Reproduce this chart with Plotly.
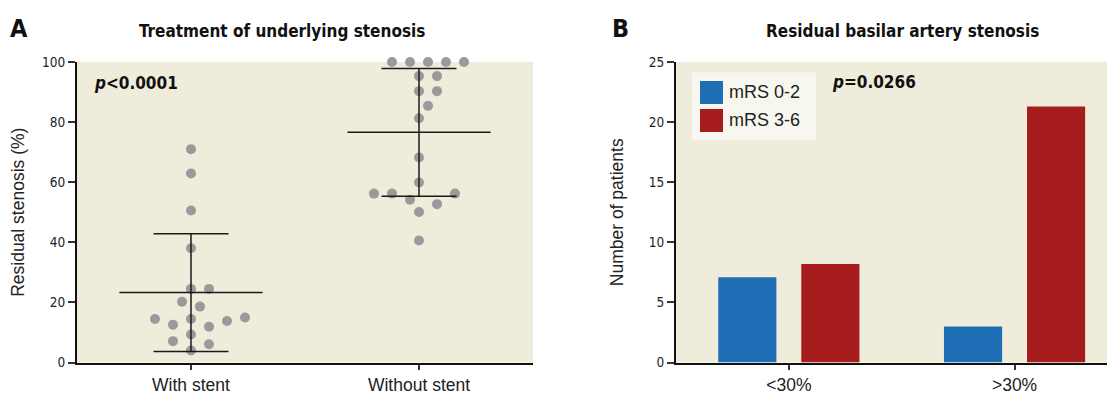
import numpy as np
import plotly.graph_objects as go

# ---------------- data ----------------
groups = ["With stent", "Without stent"]
with_stent = [71.0, 62.9, 50.6, 38.0, 24.5, 24.5, 20.2, 18.6, 15.0, 14.5,
              14.5, 13.8, 12.6, 11.9, 9.3, 7.1, 6.1, 4.0]
without_stent = [100, 100, 100, 100, 100, 95.3, 95.3, 90.3, 90.3, 85.4,
                 81.3, 68.2, 59.9, 56.2, 56.2, 56.2, 54.2, 52.7, 50.1, 40.6]

stenosis_cats = ["<30%", ">30%"]
mrs_02 = [7.1, 3.0]
mrs_36 = [8.2, 21.3]
series_names = ["mRS 0-2", "mRS 3-6"]

# ---------------- styling ----------------
BG = "#f0ecdb"
GREY = "#9a9a9a"
BLUE = "#1f6fb6"
RED = "#a61b1b"
NARROW = "DejaVu Sans Condensed, Roboto, sans-serif"
SANS = "Liberation Sans, Arial, sans-serif"

# page body has an 8px margin: size the figure to the visible window
OFF = 8
W, H = 1115 - OFF, 395 - OFF


def px_x(x):
    return (x - OFF) / W


def px_y(y):
    return (H - (y - OFF)) / H


xdom1 = [px_x(77), px_x(533)]
xdom2 = [px_x(676), 1.0]
ydom = [px_y(362.5), px_y(62)]


def swarm(values, ppu_y, ppu_x, diam=15.0, step=9.0):
    """Greedy beeswarm: horizontal offsets (data units) so markers don't overlap."""
    vals = np.asarray(values, dtype=float)
    order = np.argsort(vals, kind="stable")
    placed = []
    offs = np.zeros(len(vals))
    cands = [0.0]
    for n in range(1, 40):
        cands += [n * step, -n * step]
    for i in order:
        y = vals[i] * ppu_y
        chosen = 0.0
        for c in cands:
            if all((c - px) ** 2 + (y - py) ** 2 >= diam ** 2 for px, py in placed):
                chosen = c
                break
        placed.append((chosen, y))
        offs[i] = chosen / ppu_x
    return offs


ppu_y = (362.5 - 62) / 100.0   # px per % on left panel
ppu_x = (533 - 77) / 2.0       # px per category unit

fig = go.Figure()

datasets = [with_stent, without_stent]
for gi, vals in enumerate(datasets):
    offs = swarm(vals, ppu_y, ppu_x)
    fig.add_trace(go.Scatter(
        x=gi + offs, y=vals, mode="markers",
        marker=dict(color=GREY, size=10, line=dict(width=0)),
        cliponaxis=False, showlegend=False, hoverinfo="y",
        xaxis="x", yaxis="y"))

# mean and SD
for gi, vals in enumerate(datasets):
    m = float(np.mean(vals))
    sd = float(np.std(vals, ddof=1))
    fig.add_trace(go.Scatter(
        x=[gi - 0.314, gi + 0.314], y=[m, m], mode="lines",
        line=dict(color="#1a1a1a", width=1.5), showlegend=False,
        hoverinfo="skip", xaxis="x", yaxis="y", cliponaxis=False))
    fig.add_trace(go.Scatter(
        x=[gi], y=[m], mode="markers", marker=dict(size=0.1, color="rgba(0,0,0,0)"),
        error_y=dict(type="data", array=[sd], visible=True, color="#1a1a1a",
                     thickness=1.5, width=37.5),
        showlegend=False, hoverinfo="skip", xaxis="x", yaxis="y", cliponaxis=False))

# bars
for name, vals, col in zip(series_names, [mrs_02, mrs_36], [BLUE, RED]):
    fig.add_trace(go.Bar(
        x=list(range(len(stenosis_cats))), y=vals, name=name,
        marker=dict(color=col, line=dict(width=0)),
        showlegend=False, xaxis="x2", yaxis="y2"))

axis_common = dict(
    showline=True, linecolor="#111111", linewidth=2, ticks="outside",
    ticklen=7, tickwidth=1.5, tickcolor="#333333", showgrid=False,
    zeroline=False, fixedrange=True, automargin=False)
xaxis_common = dict(axis_common, ticklen=5)

fig.update_layout(
    width=W, height=H, autosize=False,
    margin=dict(l=0, r=0, t=0, b=0, pad=0),
    paper_bgcolor="white", plot_bgcolor=BG,
    barmode="group", bargap=0.264, bargroupgap=0.30,
    xaxis=dict(domain=xdom1, range=[-0.5, 1.5], tickvals=[0, 1], ticktext=groups,
               tickfont=dict(family=SANS, size=17.5, color="#222"), anchor="y",
               **xaxis_common),
    yaxis=dict(domain=ydom, range=[0, 100], tickvals=[0, 20, 40, 60, 80, 100],
               tickfont=dict(family=NARROW, size=13.5, color="#222"), anchor="x",
               title=dict(text="Residual stenosis (%)", standoff=14,
                          font=dict(family=SANS, size=17.5, color="#222")),
               **axis_common),
    xaxis2=dict(domain=xdom2, range=[-0.5, 1.445], tickvals=[0, 1],
                ticktext=stenosis_cats,
                tickfont=dict(family=SANS, size=17.5, color="#222"), anchor="y2",
                **xaxis_common),
    yaxis2=dict(domain=ydom, range=[0, 25], tickvals=[0, 5, 10, 15, 20, 25],
                tickfont=dict(family=NARROW, size=13.5, color="#222"), anchor="x2",
                title=dict(text="Number of patients", standoff=21,
                           font=dict(family=SANS, size=17.5, color="#222")),
                **axis_common),
)

# legend box (manual, large swatches)
fig.add_shape(type="rect", xref="paper", yref="paper",
              x0=px_x(692), x1=px_x(816), y0=px_y(140), y1=px_y(72.5),
              fillcolor="#f8f7ef", line=dict(width=0), layer="above")
for k, (name, col) in enumerate(zip(series_names, [BLUE, RED])):
    top = 81 + k * 28
    fig.add_shape(type="rect", xref="paper", yref="paper",
                  x0=px_x(700), x1=px_x(723), y0=px_y(top + 23), y1=px_y(top),
                  fillcolor=col, line=dict(width=0), layer="above")
    fig.add_annotation(x=px_x(727), y=px_y(top + 11.5), xref="paper", yref="paper",
                       text=name, showarrow=False, xanchor="left", yanchor="middle",
                       font=dict(family=SANS, size=18, color="#222"))

# titles and labels
titles = [
    dict(x=282, text="<b>Treatment of underlying stenosis</b>"),
    dict(x=902, text="<b>Residual basilar artery stenosis</b>"),
]
for t in titles:
    fig.add_annotation(x=px_x(t["x"]), y=px_y(31), xref="paper", yref="paper",
                       text=t["text"], showarrow=False, xanchor="center",
                       yanchor="middle", font=dict(family=NARROW, size=17, color="#111"))

for letter, xp in [("A", 19), ("B", 620)]:
    fig.add_annotation(x=px_x(xp), y=px_y(29), xref="paper", yref="paper",
                       text=f"<b>{letter}</b>", showarrow=False, xanchor="center",
                       yanchor="middle", font=dict(family=NARROW, size=25, color="#111"))

fig.add_annotation(x=px_x(92), y=px_y(83), xref="paper", yref="paper",
                   text="<b><i>p</i>&lt;0.0001</b>", showarrow=False, xanchor="left",
                   yanchor="middle", font=dict(family=NARROW, size=17, color="#111"))
fig.add_annotation(x=px_x(830), y=px_y(82), xref="paper", yref="paper",
                   text="<b><i>p</i>=0.0266</b>", showarrow=False, xanchor="left",
                   yanchor="middle", font=dict(family=NARROW, size=17, color="#111"))

fig.write_html("out.html")
